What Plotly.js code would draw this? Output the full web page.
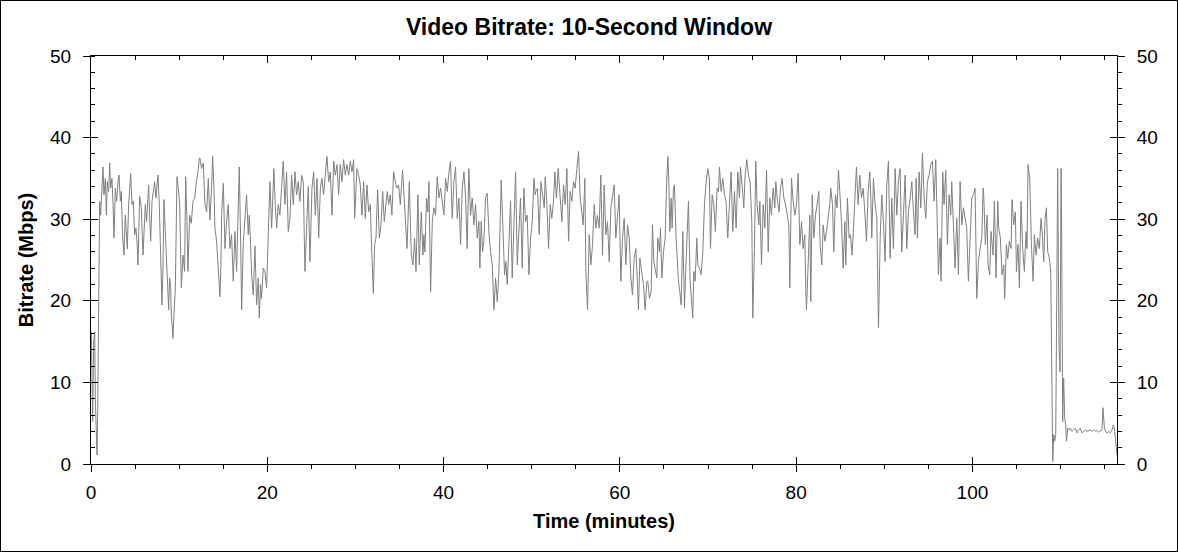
<!DOCTYPE html>
<html>
<head>
<meta charset="utf-8">
<script src="https://cdn.plot.ly/plotly-3.0.1.min.js"></script>
<style>
  html, body { margin: 0; padding: 0; background: #fff; }
  #graph { width: 1178px; height: 552px; box-sizing: border-box; border: 1px solid #000; }
</style>
</head>
<body>
<div id="graph"></div>
<script>
// time in minutes, bitrate in Mbps (10-second window)
let minutes = [
  0.04,0.19,0.30,0.42,0.49,0.61,0.68,0.76,0.83,0.91,0.98,1.10,1.21,1.36,1.47,1.63,1.74,1.85,2.00,2.12,2.23,2.38,2.50,2.61,2.76,2.91,3.06,3.18,3.33,3.44,3.59,3.74,3.89,4.01,4.12,4.27,4.50,4.65,4.80,4.95,5.10,5.22,5.33,5.52,5.71,5.90,6.05,6.16,6.31,6.43,6.54,6.65,6.77,6.92,7.07,7.22,7.37,7.49,7.60,7.75,7.90,8.05,8.17,8.28,8.43,8.54,8.70,8.81,8.92,9.04,9.11,9.30,9.41,9.57,9.68,9.75,9.91,10.06,10.25,10.44,10.62,10.74,10.89,11.00,11.19,11.38,11.57,11.76,11.95,12.14,12.29,
  12.36,12.55,12.74,12.93,13.12,13.31,13.49,13.68,13.80,13.95,14.06,14.25,14.44,14.63,14.74,14.82,15.01,15.20,15.38,15.57,15.76,15.95,16.14,16.33,16.52,16.67,16.82,16.97,17.09,17.27,17.46,17.65,17.84,17.96,18.11,18.22,18.41,18.60,18.79,18.98,19.09,19.24,19.35,19.54,19.73,19.92,20.11,20.30,20.49,20.75,20.90,21.06,21.24,21.43,21.62,21.81,22.00,22.19,22.38,22.57,22.76,22.95,23.14,23.32,23.51,23.70,23.89,24.08,24.27,24.46,24.65,24.84,24.99,
  25.07,25.26,25.45,25.64,25.83,26.02,26.20,26.39,26.58,26.77,26.96,27.15,27.34,27.53,27.72,27.91,28.09,28.28,28.47,28.66,28.85,29.04,29.23,29.42,29.61,29.80,29.91,30.06,30.17,30.36,30.55,30.74,30.93,31.12,31.31,31.50,31.69,31.80,31.91,32.03,32.18,32.33,32.52,32.71,32.90,33.09,33.27,33.46,33.61,33.77,33.95,34.14,34.33,34.52,34.71,34.90,35.09,35.35,35.58,35.85,36.11,36.34,36.53,36.71,36.87,37.09,37.24,37.47,37.66,
  37.77,37.88,38.07,38.22,38.34,38.53,38.72,38.90,39.09,39.28,39.47,39.66,39.85,40.04,40.23,40.42,40.61,40.79,40.98,41.17,41.36,41.55,41.74,41.93,42.12,42.31,42.50,42.68,42.87,43.06,43.25,43.44,43.63,43.82,44.01,44.12,44.27,44.42,44.57,44.76,44.95,45.14,45.33,45.52,45.71,45.90,46.09,46.28,46.54,46.73,46.92,47.07,47.22,47.41,47.60,47.79,47.98,48.17,48.36,48.55,48.73,48.92,49.11,49.30,49.49,49.68,49.87,50.06,50.25,50.40,
  50.47,50.66,50.85,51.04,51.23,51.42,51.53,51.72,51.91,52.10,52.28,52.47,52.63,52.81,53.00,53.19,53.42,53.61,53.80,53.99,54.18,54.36,54.55,54.74,54.93,55.12,55.31,55.50,55.69,55.84,56.03,56.14,56.33,56.52,56.71,56.90,57.09,57.28,57.46,57.65,57.84,58.03,58.22,58.41,58.60,58.79,58.98,59.17,59.35,59.54,59.73,59.92,60.11,60.30,60.49,60.68,60.87,61.06,61.25,61.43,61.62,61.81,62.00,62.11,62.27,62.49,62.68,62.87,63.06,
  63.17,63.36,63.55,63.70,63.85,64.00,64.19,64.30,64.49,64.61,64.76,64.95,65.14,65.29,65.44,65.55,65.67,65.82,65.93,66.08,66.19,66.38,66.50,66.65,66.80,66.95,67.14,67.33,67.44,67.59,67.78,67.97,68.12,68.27,68.39,68.54,68.73,68.84,69.03,69.22,69.41,69.60,69.79,69.98,70.16,70.28,70.47,70.66,70.84,71.03,71.19,71.30,71.49,71.68,71.87,72.05,72.24,72.43,72.62,72.81,73.00,73.19,73.38,73.57,73.68,73.87,74.06,74.21,74.40,74.59,74.78,74.97,75.08,75.27,75.42,75.57,75.76,
  75.88,76.07,76.26,76.45,76.64,76.83,77.01,77.20,77.39,77.58,77.69,77.88,78.07,78.22,78.41,78.60,78.79,78.98,79.17,79.28,79.47,79.66,79.85,80.04,80.23,80.42,80.61,80.79,80.98,81.10,81.17,81.36,81.55,81.66,81.82,82.00,82.19,82.38,82.57,82.72,82.91,83.06,83.25,83.44,83.63,83.82,83.93,84.12,84.27,84.46,84.65,84.80,84.95,85.14,85.33,85.52,85.63,85.82,86.01,86.16,86.35,86.54,86.73,86.84,87.03,87.22,87.41,87.60,87.79,87.98,88.17,88.36,88.51,
  88.58,88.77,88.96,89.15,89.34,89.53,89.71,89.90,90.09,90.28,90.47,90.66,90.85,91.04,91.23,91.42,91.60,91.79,91.98,92.17,92.36,92.55,92.74,92.93,93.12,93.31,93.49,93.61,93.76,93.95,94.14,94.33,94.52,94.71,94.89,95.08,95.27,95.46,95.65,95.84,95.99,96.14,96.33,96.44,96.63,96.78,96.97,97.16,97.35,97.54,97.65,97.84,98.03,98.22,98.41,98.60,98.79,98.98,99.17,99.35,99.54,99.73,99.92,100.11,100.30,100.49,100.68,100.87,101.06,101.21,
  101.28,101.47,101.66,101.77,101.96,102.11,102.34,102.49,102.68,102.87,102.98,103.17,103.36,103.55,103.66,103.85,104.00,104.19,104.38,104.49,104.68,104.87,104.99,105.17,105.33,105.51,105.70,105.89,106.08,106.19,106.31,106.50,106.69,106.88,107.03,107.22,107.40,107.59,107.78,107.93,108.09,108.24,108.39,108.54,108.73,108.88,108.99,109.11,109.22,109.33,109.45,109.56,109.67,109.82,109.94,110.05,110.13,110.24,110.35,110.47,110.58,110.66,110.81,110.96,111.11,111.30,111.49,111.68,111.87,112.05,112.24,112.43,112.62,112.81,113.00,113.19,113.38,113.57,113.76,113.95,114.13,114.32,114.51,114.70,114.81,114.97,115.12,115.27,115.46,115.65,115.84,115.99,116.14,116.29,116.40
];

let mbps = [
  16.2,5.2,15.0,16.2,8.0,3.2,1.1,6.4,19.5,30.1,32.2,30.5,33.8,36.4,33.0,35.0,30.5,34.6,33.4,36.9,33.8,35.0,31.8,27.7,33.8,32.2,34.6,35.4,32.2,33.4,27.7,25.6,30.5,28.9,26.4,31.8,35.6,31.8,32.2,28.1,28.9,27.3,24.4,32.8,31.4,25.6,28.9,31.8,29.7,31.8,34.2,30.5,27.3,32.2,33.4,34.6,32.6,34.2,35.4,31.8,26.0,19.5,24.4,32.4,28.5,25.2,22.4,18.9,22.8,21.6,18.5,15.4,18.3,21.6,29.7,35.2,33.8,31.8,21.6,25.6,23.6,35.2,29.7,23.6,30.5,29.5,32.2,32.6,34.6,35.8,37.5,
  37.5,36.2,36.9,31.8,30.9,35.0,29.9,33.8,37.7,33.8,28.9,27.3,23.6,20.5,24.4,30.5,34.4,26.4,29.7,31.8,26.4,28.1,22.4,28.5,23.6,29.7,36.4,27.7,18.9,26.9,29.7,33.0,28.1,30.5,26.9,23.2,20.7,26.7,19.5,22.8,17.9,22.0,20.3,24.0,23.6,21.6,28.1,34.6,28.9,36.2,31.8,28.9,31.8,30.5,33.8,37.1,31.8,35.8,28.5,30.1,35.4,31.8,35.8,33.0,34.6,32.2,35.4,34.6,23.6,30.1,34.0,24.8,32.6,
  33.8,35.8,30.5,35.0,27.7,33.8,35.0,33.0,35.4,37.7,34.6,35.8,30.5,37.1,35.4,36.7,33.0,36.7,34.6,37.3,35.4,36.7,35.4,37.1,35.8,37.3,30.1,35.0,36.2,35.4,34.2,30.5,34.6,30.1,34.2,30.9,31.8,27.7,24.8,20.9,26.9,27.7,33.6,27.7,29.3,33.4,29.7,32.2,33.4,31.8,33.0,30.5,35.8,34.6,33.8,34.2,31.8,36.0,31.8,26.4,34.6,25.6,24.4,27.7,23.6,33.0,24.4,30.9,25.6,
  28.1,26.0,32.6,30.9,34.6,21.1,29.7,31.4,30.5,35.2,32.6,33.8,31.8,30.5,35.0,33.4,35.8,37.1,30.1,34.6,36.4,30.1,32.6,26.9,33.8,35.8,32.6,26.4,36.2,30.5,32.6,29.3,31.8,27.7,29.7,24.0,29.7,26.0,27.3,32.6,33.2,28.5,26.0,24.4,18.9,22.8,19.9,23.6,34.8,28.1,23.2,24.8,22.0,26.9,32.2,22.8,30.9,35.8,24.4,29.7,32.6,24.0,33.8,29.7,30.5,23.2,27.7,29.7,35.0,33.0,
  33.4,33.8,28.1,34.6,32.6,31.4,35.2,31.8,26.4,31.8,30.1,32.2,35.8,32.6,36.2,33.0,29.7,34.2,31.8,36.2,27.3,33.4,32.2,34.6,33.8,36.2,38.3,32.6,30.9,29.3,35.0,23.6,18.9,28.1,24.4,26.9,31.8,28.9,30.5,28.9,35.4,25.6,34.2,28.1,29.7,24.8,31.4,32.6,34.2,27.7,30.1,33.0,22.4,27.7,30.1,24.4,29.3,27.7,22.8,20.7,25.2,26.4,22.0,18.9,25.2,23.6,22.0,18.9,22.4,
  22.4,20.3,21.1,29.3,24.8,24.0,22.8,27.7,26.0,28.9,22.8,26.0,27.7,33.8,37.7,35.0,28.5,32.6,28.9,33.8,34.2,27.7,25.2,22.4,21.1,19.5,28.5,19.1,22.8,27.7,32.2,22.4,19.5,17.9,23.6,22.4,27.7,24.4,24.0,23.2,26.0,31.8,34.6,36.2,35.0,26.4,33.0,31.8,28.5,33.8,33.4,36.4,33.4,35.0,33.0,32.2,27.7,32.6,35.8,28.5,33.4,28.9,35.8,32.6,36.4,34.2,31.4,35.4,37.3,35.4,34.6,29.7,17.9,26.4,37.1,31.8,29.3,
  32.2,24.4,31.8,28.9,36.0,26.0,32.6,30.5,33.8,31.4,34.6,32.2,30.9,33.8,35.0,32.6,31.8,30.5,29.3,21.6,35.0,32.2,30.5,31.8,35.6,26.9,29.7,26.4,28.1,21.1,18.9,24.4,30.5,19.9,33.0,27.7,30.5,31.8,33.4,26.9,24.4,29.3,27.3,28.5,30.1,31.8,33.8,31.8,26.0,33.0,31.4,36.0,33.4,29.7,24.0,29.7,24.4,32.6,27.7,28.1,25.6,30.1,35.0,36.4,31.8,35.4,32.6,33.8,30.9,27.3,33.4,35.8,31.4,
  27.7,35.0,31.8,30.1,16.7,27.7,33.0,29.7,24.8,34.2,37.1,25.2,32.6,26.4,36.2,30.5,34.6,36.2,26.0,30.5,35.4,26.4,30.9,32.6,34.6,30.9,28.1,35.0,27.7,35.8,31.4,38.1,32.6,30.1,34.6,35.4,36.7,37.1,32.2,37.3,31.8,23.2,27.7,22.4,35.8,31.8,36.0,26.9,33.0,30.5,34.6,30.1,24.0,30.1,23.2,34.6,29.3,31.4,30.1,28.9,22.4,27.7,32.6,33.0,33.8,20.3,24.8,26.4,27.7,33.8,
  33.0,26.9,30.5,24.4,23.2,28.5,25.6,32.2,22.8,32.2,28.9,27.7,23.2,24.4,20.3,26.9,25.2,27.3,26.4,32.4,29.3,30.9,23.6,26.9,21.6,32.2,26.4,23.6,28.5,26.4,36.7,35.0,26.9,22.4,28.1,25.6,27.7,26.4,30.1,28.1,24.8,30.1,31.4,26.0,25.2,23.6,7.3,0.3,3.6,2.8,3.6,15.4,36.2,14.6,11.3,36.2,27.7,5.2,10.5,5.6,4.8,2.8,4.4,4.2,4.4,4.0,4.2,4.4,3.8,4.2,4.4,3.8,4.0,4.2,4.0,4.1,4.2,4.0,4.2,4.0,4.1,3.9,4.0,4.2,6.9,4.4,4.0,3.8,4.0,3.8,4.2,4.8,4.0,2.4,1.1
];

let timeRange = [0, 116.4];
let rateRange = [0, 50];

function plot() {
    let fontFamily = "Liberation Sans, Arial, sans-serif";

    let bitrate = {
        x: minutes,
        y: mbps,
        type: "scatter",
        mode: "lines",
        hoverinfo: "skip",
        line: { color: "#808080", width: 1 }
    };

    // invisible copies so the extra tick axes get drawn
    let ghost = function (xa, ya) {
        return {
            x: minutes, y: mbps, xaxis: xa, yaxis: ya,
            type: "scatter", mode: "lines", hoverinfo: "skip", showlegend: false,
            line: { color: "rgba(0,0,0,0)", width: 0 }
        };
    };

    let common = {
        showgrid: false,
        zeroline: false,
        fixedrange: true,
        tickcolor: "#000",
        tickwidth: 1,
        linecolor: "#000",
        linewidth: 1
    };

    let layout = {
        width: 1176,
        height: 550,
        margin: { l: 90, r: 60, t: 55, b: 87 },
        paper_bgcolor: "#fff",
        plot_bgcolor: "#fff",
        showlegend: false,
        font: { family: fontFamily, color: "#000", size: 19 },
        title: {
            text: "Video Bitrate: 10-Second Window",
            font: { family: fontFamily, size: 23, weight: "bold", color: "#000" },
            x: 0.5, xref: "container", y: 0.953, yref: "container", yanchor: "middle"
        },
        xaxis: Object.assign({}, common, {
            range: timeRange, tick0: 0, dtick: 20,
            ticks: "outside", ticklen: 7, showline: true,
            ticklabelstandoff: 4,
            minor: { ticks: "outside", ticklen: 4, dtick: 5, tickcolor: "#000", showgrid: false },
            tickfont: { size: 19 },
            title: { text: "Time (minutes)", font: { size: 20, weight: "bold" }, standoff: 12 }
        }),
        xaxis2: Object.assign({}, common, {
            range: timeRange, overlaying: "x", anchor: "y2", side: "bottom",
            tick0: 0, dtick: 20, ticks: "inside", ticklen: 7, showticklabels: false, showline: false
        }),
        xaxis3: Object.assign({}, common, {
            range: timeRange, overlaying: "x", anchor: "y3", side: "top",
            tick0: 0, dtick: 20, ticks: "inside", ticklen: 7, showticklabels: false, showline: true,
            minor: { ticks: "inside", ticklen: 4, dtick: 5, tickcolor: "#000", showgrid: false }
        }),
        yaxis: Object.assign({}, common, {
            range: rateRange, tick0: 0, dtick: 10,
            ticks: "outside", ticklen: 7, showline: true,
            ticklabelstandoff: 8,
            minor: { ticks: "inside", ticklen: 4, dtick: 2, tickcolor: "#000", showgrid: false },
            tickfont: { size: 19 },
            title: { text: "Bitrate (Mbps)", font: { size: 20, weight: "bold" }, standoff: 11 }
        }),
        yaxis2: Object.assign({}, common, {
            range: rateRange, overlaying: "y", side: "left", anchor: "x2",
            tick0: 0, dtick: 10, ticks: "inside", ticklen: 7, showticklabels: false, showline: false
        }),
        yaxis3: Object.assign({}, common, {
            range: rateRange, overlaying: "y", side: "right", anchor: "x3",
            tick0: 0, dtick: 10, ticks: "outside", ticklen: 7, showline: true,
            ticklabelstandoff: 8,
            minor: { ticks: "outside", ticklen: 4, dtick: 2, tickcolor: "#000", showgrid: false },
            tickfont: { size: 19 }
        }),
        yaxis4: Object.assign({}, common, {
            range: rateRange, overlaying: "y", side: "right", anchor: "x2",
            tick0: 0, dtick: 10, ticks: "inside", ticklen: 7, showticklabels: false, showline: false
        })
    };

    let data = [ghost("x2", "y2"), ghost("x3", "y3"), ghost("x2", "y4"), bitrate];
    Plotly.newPlot("graph", data, layout, { displayModeBar: false, staticPlot: true });
}

plot();
</script>
</body>
</html>
